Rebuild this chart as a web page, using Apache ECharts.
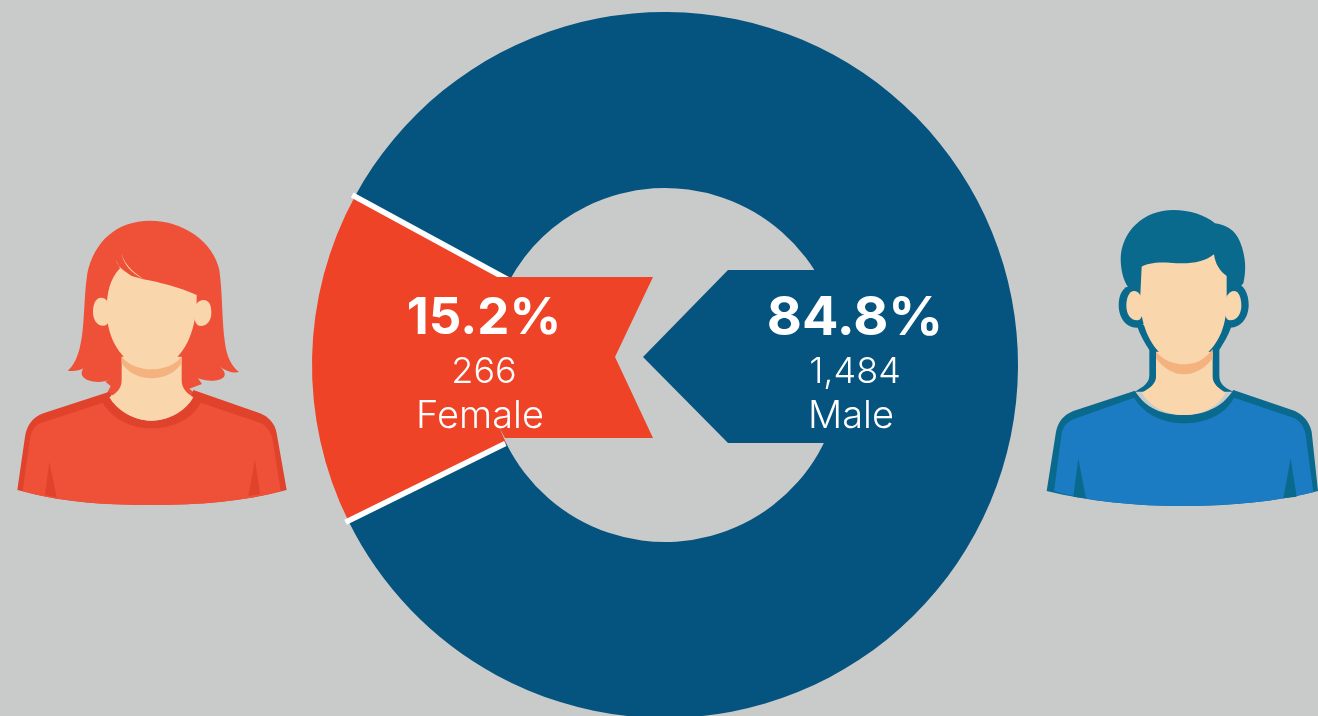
<!DOCTYPE html>
<html>
<head>
<meta charset="utf-8">
<title>Female / Male</title>
<style>
  html, body { margin: 0; padding: 0; background: #c9cbca; }
  #chart { width: 1318px; height: 716px; }
</style>
<script src="https://cdn.jsdelivr.net/npm/echarts@6/dist/echarts.min.js"></script>
</head>
<body>
<div id="chart"></div>
<script>
/* global echarts:false */
const categories = ['Female', 'Male']
const counts = [266, 1484]
const percents = [15.2, 84.8]
const colors = ['#ee4327', '#05537f']

const cx = 665
const cy = 365
const startAngle = 206.2
const fontName = 'Inter, sans-serif'

// people, in 3x crop coordinates, scaled down when placed
const skin = '#f9d6ac'
const shade = '#f3b27e'

const femaleParts = [
  ['#ee5137', 'M450 62C350 62 282 125 262 220C250 300 255 380 240 440C232 475 218 500 203 512C222 515 238 512 250 505C240 520 245 532 262 540C285 548 310 548 330 538L316 545L332 558L318 585L590 585L568 566L606 552L594 535C620 545 660 545 672 530C678 522 672 510 660 500C680 515 700 520 717 516C695 500 680 470 675 430C665 360 668 280 658 210C640 125 550 62 450 62Z'],
  ['#e0422c', 'M328 575L130 640C95 652 80 680 75 710L52 870C180 905 300 915 455 915C600 915 730 905 860 870L830 700C825 670 805 650 780 640L580 570C560 630 510 662 455 662C400 662 350 630 328 575Z'],
  ['#ee5137', 'M308 608C340 662 400 685 455 685C510 685 575 662 602 608L780 668C802 678 812 695 818 720L842 873C730 905 600 915 455 915C300 915 180 905 68 873L90 715C95 690 105 675 125 668Z'],
  ['#e0422c', 'M148 785L135 885L170 892Z'],
  ['#e0422c', 'M765 780L745 888L780 882Z'],
  [skin, 'M365 470L365 540C365 565 350 580 328 592C350 630 400 662 455 662C510 662 560 630 580 592C560 580 545 565 545 540L545 470Z'],
  [shade, 'M365 470C385 495 420 508 455 508C490 508 525 495 545 470L545 490C525 520 490 535 455 535C420 535 385 520 365 490Z'],
  [skin, 'M303 293C286 293 279 315 279 335C279 358 290 377 310 377C325 377 330 360 330 335C330 310 320 293 303 293Z'],
  [skin, 'M610 300C630 300 634 320 634 338C634 360 622 378 602 378C588 378 582 360 582 338C582 315 595 300 610 300Z'],
  [skin, 'M348 180C352 195 360 205 395 228L430 238C470 245 540 262 590 285C592 390 555 460 510 490C480 512 420 505 395 490C350 460 320 400 320 330C320 280 330 235 360 205Z'],
  ['#ee5137', 'M362 148C365 185 395 215 432 238C395 222 372 205 360 190L352 178C358 170 360 160 362 148Z'],
  [skin, 'M362 148C366 185 395 215 432 238C395 220 368 195 362 148Z']
]

const maleParts = [
  ['#0a6a8e', 'M430 45C340 45 275 110 272 190C272 220 278 250 290 270L330 320L590 320L640 265C648 230 650 190 630 140C615 105 590 90 555 85C525 60 480 45 430 45Z'],
  ['#0a6a8e', 'M305 272C280 272 266 298 266 330C266 365 285 398 320 398C345 398 355 360 355 330C355 298 330 272 305 272Z'],
  ['#0a6a8e', 'M615 265C640 265 656 295 656 330C656 365 635 398 600 398C575 398 565 360 565 330C565 295 590 265 615 265Z'],
  ['#0a6a8e', 'M320 390C330 420 345 445 358 465L358 540C358 565 340 575 315 590L610 590C575 575 568 560 568 540L568 465C590 430 600 410 605 390Z'],
  ['#0a6a8e', 'M315 587L130 648C100 660 85 680 78 710L50 888C180 920 320 933 460 933C600 933 740 920 864 888L845 710C838 680 820 660 795 648L610 585C575 640 520 660 460 660C400 660 345 640 315 587Z'],
  ['#1b7cc4', 'M312 608C345 662 405 685 462 685C520 685 585 662 612 608L790 668C812 678 822 695 826 715L850 892C740 920 600 933 460 933C320 933 180 920 72 888L95 715C100 695 110 682 130 673Z'],
  ['#0a6a8e', 'M145 790L130 905L168 910Z'],
  ['#0a6a8e', 'M782 790L760 910L800 905Z'],
  [skin, 'M378 470L378 545C378 565 360 580 335 593C360 635 410 660 462 660C515 660 565 635 587 593C565 580 548 565 548 545L548 470Z'],
  [shade, 'M378 470C400 495 430 508 462 508C495 508 525 495 548 462L548 490C525 520 495 538 462 538C430 538 400 520 378 490Z'],
  [skin, 'M312 288C297 288 289 310 289 332C289 355 300 376 322 376C335 376 340 355 340 332C340 310 328 288 312 288Z'],
  [skin, 'M612 288C627 288 634 310 634 332C634 355 622 376 600 376C587 376 582 355 582 332C582 310 597 288 612 288Z'],
  [skin, 'M335 215C350 205 380 200 420 203C470 208 520 205 552 178C555 205 570 230 590 243L590 320C590 400 560 460 510 490C480 510 440 510 410 490C365 460 335 400 330 320Z']
]

const people = [
  { parts: femaleParts, x: 0, y: 200 },
  { parts: maleParts, x: 1030, y: 195 }
]

function renderPerson (params) {
  const person = people[params.dataIndex]
  return {
    type: 'group',
    x: person.x,
    y: person.y,
    scaleX: 1 / 3,
    scaleY: 1 / 3,
    silent: true,
    children: person.parts.map((part) => ({
      type: 'path',
      shape: { pathData: part[1] },
      style: { fill: part[0] }
    }))
  }
}

function caption (text, x, y, size, weight) {
  return {
    type: 'text',
    x: x,
    y: y,
    z: 40,
    silent: true,
    style: {
      text: text,
      fill: '#fff',
      font: `${weight} ${size}px ${fontName}`,
      textAlign: 'center',
      textVerticalAlign: 'middle'
    }
  }
}

function separator (angle) {
  const rad = angle * Math.PI / 180
  return {
    type: 'line',
    z: 5,
    silent: true,
    shape: {
      x1: cx + 178 * Math.cos(rad),
      y1: cy - 178 * Math.sin(rad),
      x2: cx + 356 * Math.cos(rad),
      y2: cy - 356 * Math.sin(rad)
    },
    style: { stroke: '#fff', lineWidth: 5.5 }
  }
}

function flag (points, color) {
  return {
    type: 'polygon',
    z: 6,
    silent: true,
    shape: { points: points },
    style: { fill: color }
  }
}

function buildChart () {
  const chart = echarts.init(document.querySelector('#chart'))
  const total = counts[0] + counts[1]
  const endAngle = startAngle - counts[0] / total * 360
  const textX = [[484, 484, 480], [855, 855, 851]]
  const percentSize = [51, 54]
  const elements = [
    separator(startAngle),
    separator(endAngle),
    flag([[497, 277], [653, 277], [615, 357], [653, 438], [505, 438], [460, 357]], colors[0]),
    flag([[728, 270], [860, 270], [860, 443], [728, 443], [643, 357]], colors[1])
  ]
  categories.forEach((name, i) => {
    elements.push(caption(percents[i] + '%', textX[i][0], 319, percentSize[i], 700))
    elements.push(caption(counts[i].toLocaleString('en-US'), textX[i][1], 372, 36, 300))
    elements.push(caption(name, textX[i][2], 417, 38, 300))
  })
  chart.setOption({
    animation: false,
    backgroundColor: '#c9cbca',
    series: [{
      type: 'pie',
      center: [cx, cy],
      radius: [177, 353],
      startAngle: startAngle,
      silent: true,
      label: { show: false },
      labelLine: { show: false },
      data: categories.map((name, i) => ({
        name: name,
        value: counts[i],
        itemStyle: { color: colors[i] }
      }))
    }, {
      type: 'custom',
      coordinateSystem: 'none',
      silent: true,
      z: 10,
      renderItem: renderPerson,
      data: categories
    }],
    graphic: { elements: elements }
  })
}

buildChart()
</script>
</body>
</html>
